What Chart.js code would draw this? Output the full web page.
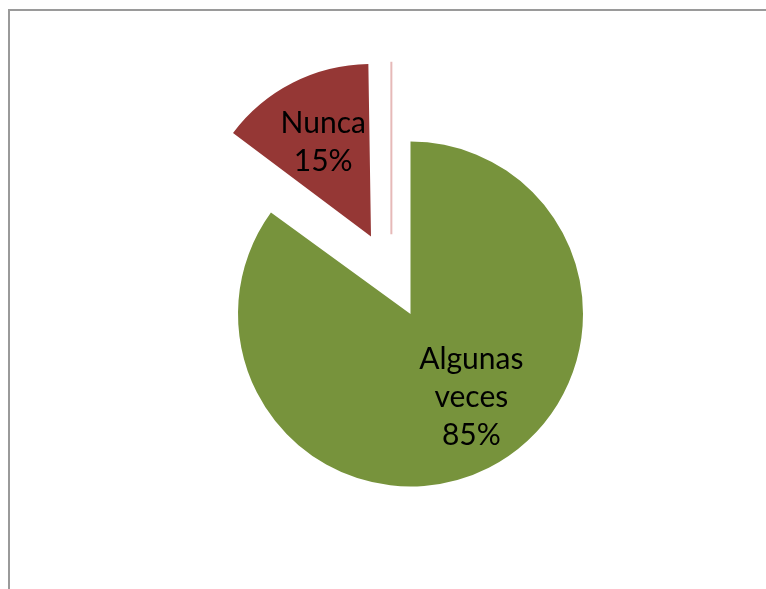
<!DOCTYPE html>
<html>
<head>
<meta charset="utf-8">
<script src="https://cdn.jsdelivr.net/npm/chart.js@4.4.1/dist/chart.umd.min.js"></script>
<style>
  html, body { margin: 0; padding: 0; background: #fff; overflow: hidden; }
  #wrap { position: relative; width: 766px; height: 589px; }
  /* cadre gris du graphique (seulement haut et gauche visibles) */
  #frame { position: absolute; left: 8px; top: 9px; width: 900px; height: 800px;
           border-left: 2px solid #9a9a9a; border-top: 2px solid #9a9a9a; }
  #chart { position: absolute; left: 0; top: 0; }
</style>
</head>
<body>
<div id="wrap">
  <div id="frame"></div>
  <canvas id="chart" width="766" height="589"></canvas>
</div>
<script>
// donnees du camembert
const categories = ['Algunas veces', 'Nunca', 'Siempre']
const valeurs = [85, 15, 0]
const couleurs = ['#77933C', '#953735', '#E6B9B8']
const decalages = [0, 348, 328]   // parts eclatees

// placement des etiquettes : fraction du rayon + petit decalage d'angle
const placement = [{ r: 0.6, da: 9 }, { r: 0.61, da: 0 }, { r: 0, da: 0 }]

// chart.js agrandit le rayon des parts eclatees, on le remet comme les autres
const rayonFixe = {
  id: 'rayonFixe',
  beforeDatasetDraw(chart, args) {
    args.meta.data.forEach((arc) => {
      const dec = (arc.options.offset || 0) / 4
      const fix = 1 - Math.sin(Math.min(Math.PI, arc.circumference || 0))
      arc._rayon = arc.outerRadius
      arc.outerRadius = arc.outerRadius - dec * fix
    })
  },
  afterDatasetDraw(chart, args) {
    args.meta.data.forEach((arc) => {
      arc.outerRadius = arc._rayon
    })
  }
}

// etiquettes dans les parts : nom + pourcentage
const etiquettes = {
  id: 'etiquettes',
  afterDatasetsDraw(chart) {
    const ctx = chart.ctx
    const meta = chart.getDatasetMeta(0)
    const total = valeurs.reduce((a, b) => a + b, 0)
    ctx.save()
    ctx.font = '30px Lato'
    ctx.fillStyle = '#000'
    ctx.textAlign = 'center'
    ctx.textBaseline = 'middle'
    meta.data.forEach((arc, i) => {
      const p = arc.getProps(['x', 'y', 'startAngle', 'endAngle', 'outerRadius'], true)
      const mid = (p.startAngle + p.endAngle) / 2
      const dec = decalages[i] / 4
      if (valeurs[i] === 0) {
        // part vide : juste un trait fin
        const nunca = meta.data[1].getProps(['startAngle', 'endAngle'], true)
        const a = (p.startAngle + (nunca.startAngle + nunca.endAngle) / 2) / 2
        const cx = p.x + Math.cos(a) * dec
        const cy = p.y + Math.sin(a) * dec
        ctx.strokeStyle = couleurs[i]
        ctx.lineWidth = 2
        ctx.beginPath()
        ctx.moveTo(cx, cy)
        ctx.lineTo(cx + Math.cos(p.startAngle) * p.outerRadius, cy + Math.sin(p.startAngle) * p.outerRadius)
        ctx.stroke()
        return
      }
      const r = p.outerRadius * placement[i].r
      const a = mid - placement[i].da * Math.PI / 180
      const x = p.x + Math.cos(mid) * dec + Math.cos(a) * r
      const y = p.y + Math.sin(mid) * dec + Math.sin(a) * r
      const pct = Math.round(valeurs[i] / total * 100) + '%'
      const lignes = categories[i].split(' ').concat([pct])
      const h = 38
      lignes.forEach((l, k) => {
        ctx.fillText(l, x, y + (k - (lignes.length - 1) / 2) * h)
      })
    })
    ctx.restore()
  }
}

new Chart(document.getElementById('chart'), {
  type: 'pie',
  data: {
    labels: categories,
    datasets: [{
      data: valeurs,
      backgroundColor: couleurs,
      borderWidth: 0,
      offset: decalages
    }]
  },
  options: {
    responsive: false,
    animation: false,
    radius: 172.5,
    layout: { padding: { left: 55, top: 39, right: 0, bottom: 0 } },
    plugins: {
      legend: { display: false },
      tooltip: { enabled: false }
    }
  },
  plugins: [rayonFixe, etiquettes]
})
</script>
</body>
</html>
